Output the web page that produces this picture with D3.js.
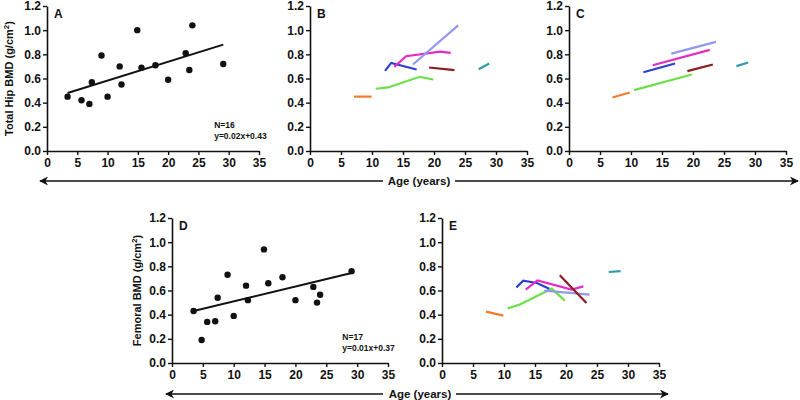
<!DOCTYPE html>
<html>
<head>
<meta charset="utf-8">
<script src="https://cdn.jsdelivr.net/npm/d3@7"></script>
<style>
  body { margin: 0; background: #fff; }
  svg text { font-family: "Liberation Sans", Arial, sans-serif; font-weight: bold; fill: #111; }
</style>
</head>
<body>
<div id="canvas"></div>
<script>
const width = 800;
const height = 400;

// ticks
const ageTicks = [0, 5, 10, 15, 20, 25, 30, 35];
const bmdTicks = [0, 0.2, 0.4, 0.6, 0.8, 1.0, 1.2];

// panel A - total hip, one scan per subject
const hipAge = [3.4, 5.7, 7.0, 7.4, 9.0, 10.0, 12.0, 12.3, 14.9, 15.6, 17.9, 20.0, 22.9, 23.5, 24.0, 29.1];
const hipBMD = [0.45, 0.42, 0.39, 0.57, 0.79, 0.45, 0.70, 0.55, 1.00, 0.69, 0.71, 0.59, 0.81, 0.67, 1.04, 0.72];
const hipFit = [[3.4, 0.48], [29.1, 0.88]];

// panel D - femoral
const femAge = [3.5, 4.8, 5.7, 7.0, 7.4, 9.0, 10.0, 12.0, 12.3, 14.9, 15.6, 17.9, 20.0, 22.9, 23.5, 24.0, 29.1];
const femBMD = [0.43, 0.19, 0.34, 0.345, 0.54, 0.73, 0.39, 0.64, 0.52, 0.94, 0.66, 0.71, 0.52, 0.63, 0.50, 0.565, 0.76];
const femFit = [[3.5, 0.43], [29.1, 0.745]];

// longitudinal subjects
const subjectColors = ["#F27B2C", "#6BE04A", "#2A3FD4", "#E42CC8", "#9298EC", "#8A1B1E", "#2E9DAA"];

// panel B - hip, observed
const hipObserved = [
  [[7.1, 0.45], [9.95, 0.45]],
  [[10.6, 0.515], [12.6, 0.526], [17.7, 0.614], [19.9, 0.592]],
  [[12.1, 0.663], [13.1, 0.729], [17.2, 0.674]],
  [[13.6, 0.696], [15.5, 0.784], [21.0, 0.823], [22.7, 0.812]],
  [[16.6, 0.716], [23.9, 1.04]],
  [[19.2, 0.691], [23.3, 0.669]],
  [[27.2, 0.677], [28.9, 0.724]]
];

// panel C - hip, modelled
const hipModel = [
  [[7.0, 0.443], [9.8, 0.484]],
  [[10.5, 0.504], [19.8, 0.633]],
  [[12.0, 0.652], [17.1, 0.724]],
  [[13.5, 0.71], [22.7, 0.837]],
  [[16.5, 0.806], [23.7, 0.903]],
  [[19.1, 0.661], [23.2, 0.716]],
  [[27.0, 0.702], [28.9, 0.732]]
];

// panel E - femoral, observed
const femObserved = [
  [[7.1, 0.425], [9.9, 0.392]],
  [[10.6, 0.452], [12.5, 0.483], [17.7, 0.615], [19.8, 0.516]],
  [[12.0, 0.626], [13.1, 0.681], [15.3, 0.662], [17.3, 0.615]],
  [[13.5, 0.607], [15.4, 0.684], [20.9, 0.607], [22.8, 0.634]],
  [[16.5, 0.599], [23.8, 0.566]],
  [[19.0, 0.726], [23.3, 0.497]],
  [[26.9, 0.753], [28.8, 0.761]]
];

const svg = d3.select("#canvas")
    .append("svg")
    .attr("width", width)
    .attr("height", height);

svg.append("rect").attr("width", width).attr("height", height).attr("fill", "#fff");

svg.append("defs").append("marker")
    .attr("id", "head")
    .attr("viewBox", "0 0 10 10")
    .attr("refX", 9)
    .attr("refY", 5)
    .attr("markerUnits", "userSpaceOnUse")
    .attr("markerWidth", 10)
    .attr("markerHeight", 9)
    .attr("orient", "auto")
    .append("path")
    .attr("d", "M0,0 L10,5 L0,10 L3,5 Z")
    .attr("fill", "#111");

function frame(box, letter) {
    const x = d3.scaleLinear().domain([0, 35]).range([box.left, box.right]);
    const y = d3.scaleLinear().domain([0, 1.2]).range([box.bottom, box.top]);
    const g = svg.append("g");

    const xa = g.append("g")
        .attr("transform", `translate(0,${box.bottom})`)
        .call(d3.axisBottom(x).tickValues(ageTicks).tickSize(4).tickPadding(3).tickSizeOuter(0));
    const ya = g.append("g")
        .attr("transform", `translate(${box.left},0)`)
        .call(d3.axisLeft(y).tickValues(bmdTicks).tickFormat(d3.format(".1f")).tickSize(4).tickPadding(2).tickSizeOuter(0));

    [xa, ya].forEach(a => {
        a.select(".domain").attr("stroke", "#111").attr("stroke-width", 1.6);
        a.selectAll(".tick line").attr("stroke", "#111").attr("stroke-width", 1.4);
        a.selectAll(".tick text").attr("font-size", 12).attr("font-family", "Liberation Sans, Arial, sans-serif").attr("font-weight", "bold").attr("fill", "#111");
    });

    g.append("text")
        .attr("x", box.left + 7)
        .attr("y", box.top + 12)
        .attr("font-size", 12)
        .text(letter);

    return { g, x, y };
}

function scatter(box, letter, ages, vals, fit, n, eq, yLabel, labelX) {
    const f = frame(box, letter);
    f.g.append("path")
        .datum(fit)
        .attr("d", d3.line().x(d => f.x(d[0])).y(d => f.y(d[1])))
        .attr("stroke", "#111")
        .attr("stroke-width", 2)
        .attr("fill", "none");
    f.g.selectAll("circle")
        .data(ages)
        .enter()
        .append("circle")
        .attr("cx", d => f.x(d))
        .attr("cy", (d, i) => f.y(vals[i]))
        .attr("r", 3.2)
        .attr("fill", "#111");
    f.g.append("text").attr("x", f.x(27.6)).attr("y", box.bottom - 23).attr("font-size", 8.5).text(n);
    f.g.append("text").attr("x", f.x(27.6)).attr("y", box.bottom - 12).attr("font-size", 8.5).text(eq);

    const t = f.g.append("text")
        .attr("transform", `translate(${labelX},${(box.top + box.bottom) / 2}) rotate(-90)`)
        .attr("text-anchor", "middle")
        .attr("font-size", 11);
    t.append("tspan").text(yLabel + " (g/cm");
    t.append("tspan").attr("baseline-shift", "super").attr("font-size", 8).text("2");
    t.append("tspan").text(")");
}

function lines(box, letter, subjects) {
    const f = frame(box, letter);
    f.g.selectAll("path.subject")
        .data(subjects)
        .enter()
        .append("path")
        .attr("class", "subject")
        .attr("d", d3.line().x(d => f.x(d[0])).y(d => f.y(d[1])))
        .attr("stroke", (d, i) => subjectColors[i])
        .attr("stroke-width", 2.2)
        .attr("fill", "none");
}

const rowTop = 6, rowBot = 151, row2Top = 218, row2Bot = 363;

scatter({ left: 47, right: 259, top: rowTop, bottom: rowBot }, "A", hipAge, hipBMD, hipFit, "N=16", "y=0.02x+0.43", "Total Hip BMD", 13);
lines({ left: 310, right: 527, top: rowTop, bottom: rowBot }, "B", hipObserved);
lines({ left: 569, right: 786, top: rowTop, bottom: rowBot }, "C", hipModel);
scatter({ left: 172, right: 388, top: row2Top, bottom: row2Bot }, "D", femAge, femBMD, femFit, "N=17", "y=0.01x+0.37", "Femoral BMD", 141);
lines({ left: 442, right: 659, top: row2Top, bottom: row2Bot }, "E", femObserved);

// age arrows
function ageArrow(y, x0, gap0, gap1, x1, cx) {
    svg.append("line").attr("x1", gap0).attr("y1", y).attr("x2", x0).attr("y2", y)
        .attr("stroke", "#111").attr("stroke-width", 1.5).attr("marker-end", "url(#head)");
    svg.append("line").attr("x1", gap1).attr("y1", y).attr("x2", x1).attr("y2", y)
        .attr("stroke", "#111").attr("stroke-width", 1.5).attr("marker-end", "url(#head)");
    svg.append("text").attr("x", cx).attr("y", y + 4).attr("text-anchor", "middle")
        .attr("font-size", 11.5).text("Age (years)");
}
ageArrow(181, 40, 383, 455, 798, 419);
ageArrow(394, 166, 383, 456, 668, 420);
</script>
</body>
</html>
